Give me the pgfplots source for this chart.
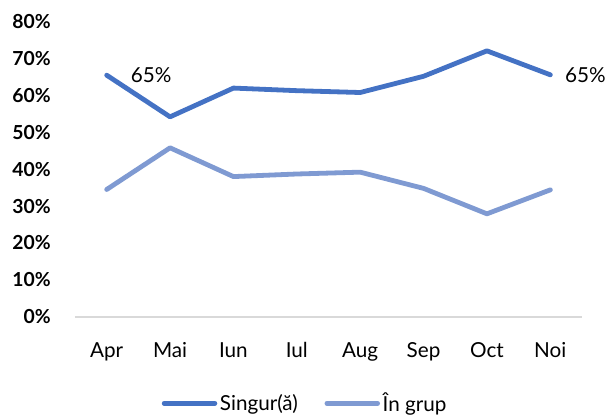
\documentclass[border=0pt]{standalone}
\usepackage{fontspec}
\setmainfont{Lato}
\usepackage{pgfplots}
\pgfplotsset{compat=1.18}
\definecolor{c1}{HTML}{4472C4}
\definecolor{c2}{HTML}{7F9AD2}
\definecolor{basegray}{HTML}{D9D9D9}
\newcommand{\fs}{\fontsize{14.5}{16}\selectfont}
\newcommand{\fx}{\fontsize{15.5}{17}\selectfont}
\begin{document}
\begin{tikzpicture}
\begin{axis}[
  scale only axis, width=380.25pt, height=221.25pt,
  xmin=-0.5, xmax=7.5, ymin=0, ymax=80,
  clip=false,
  axis lines=left,
  axis line style={-},
  y axis line style={draw=none},
  x axis line style={draw=basegray, line width=1.3pt},
  major tick length=0pt,
  /pgf/number format/assume math mode=true,
  xtick={0,...,7},
  xticklabels={Apr,Mai,Iun,Iul,Aug,Sep,Oct,Noi},
  ytick={0,10,...,80},
  yticklabel={\pgfmathprintnumber{\tick}\%},
  y tick label style={font=\fs\bfseries, anchor=east, inner sep=0pt, xshift=-18pt},
  x tick label style={font=\fx, anchor=base, inner sep=0pt, yshift=-30.5pt},
  legend columns=2,
  legend style={draw=none, at={(0.4546,0)}, anchor=center, yshift=-65pt,
    font=\fx, inner sep=0pt,
    /tikz/every even column/.append style={column sep=18pt}},
  legend cell align=left,
  legend image code/.code={\draw[#1, line cap=round] (0pt,0pt) -- (38pt,0pt);},
]
\addplot[c1, line width=3.6pt, line join=round, line cap=round] coordinates {
  (0,65.5) (1,54.2) (2,62.0) (3,61.3) (4,60.8) (5,65.2) (6,72.1) (7,65.6)};
\addlegendentry{Singur(ă)}
\addplot[c2, line width=3.6pt, line join=round, line cap=round] coordinates {
  (0,34.5) (1,45.8) (2,38.0) (3,38.7) (4,39.2) (5,34.8) (6,27.9) (7,34.4)};
\addlegendentry{În grup}
\addplot[draw=none, forget plot, nodes near coords, point meta=explicit symbolic,
  nodes near coords style={anchor=west, inner sep=0pt, xshift=18pt, font=\fx}]
  coordinates {(0,65.5) [65\%]};
\addplot[draw=none, forget plot, nodes near coords, point meta=explicit symbolic,
  nodes near coords style={anchor=west, inner sep=0pt, xshift=11pt, font=\fx}]
  coordinates {(7,65.6) [65\%]};
\coordinate (bl) at (axis cs:-1.6834,-27.2);
\coordinate (tr) at (axis cs:7.8945,85.89);
\end{axis}
\pgfresetboundingbox
\path[use as bounding box] (bl) rectangle (tr);
\end{tikzpicture}
\end{document}
